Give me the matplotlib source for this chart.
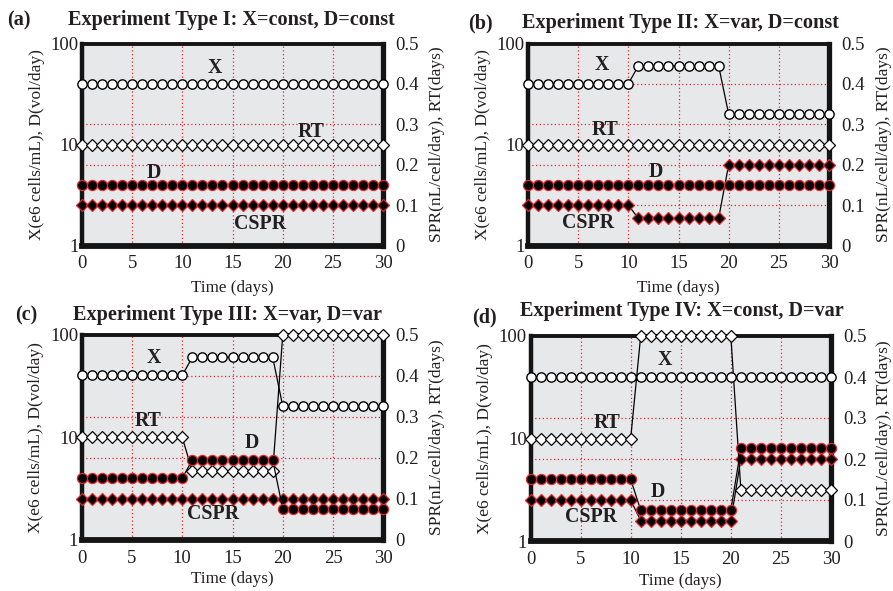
import numpy as np
import matplotlib
matplotlib.use("Agg")
import matplotlib.pyplot as plt
from matplotlib.ticker import NullLocator

# ---------------- data ----------------
DAYS = list(range(31))

# (a) Type I: X const, D const
a_X = [40] * 31
a_D = [4] * 31
a_RT = [0.25] * 31
a_CSPR = [0.1] * 31

# (b) Type II: X var, D const
b_X = [40] * 11 + [60] * 9 + [20] * 11
b_D = [4] * 31
b_RT = [0.25] * 31
b_CSPR = [0.1] * 11 + [0.067] * 9 + [0.2] * 11

# (c) Type III: X var, D var
c_X = [40] * 11 + [60] * 9 + [20] * 11
c_D = [4] * 11 + [6] * 9 + [2] * 11
c_RT = [0.25] * 11 + [0.167] * 9 + [0.5] * 11
c_CSPR = [0.1] * 31

# (d) Type IV: X const, D var
d_X = [40] * 31
d_D = [4] * 11 + [2] * 10 + [8] * 10
d_RT = [0.25] * 11 + [0.5] * 10 + [0.125] * 10
d_CSPR = [0.1] * 11 + [0.05] * 10 + [0.2] * 10

PANEL_TAGS = ["(a)", "(b)", "(c)", "(d)"]
TITLES = ["Experiment Type I: X=const, D=const",
          "Experiment Type II: X=var, D=const",
          "Experiment Type III: X=var, D=var",
          "Experiment Type IV: X=const, D=var"]
X_TICKS = [0, 5, 10, 15, 20, 25, 30]
LEFT_TICKS = [1, 10, 100]
LEFT_TICKLABELS = ["1", "10", "100"]
RIGHT_TICKS = [0, 0.1, 0.2, 0.3, 0.4, 0.5]
RIGHT_TICKLABELS = ["0", "0.1", "0.2", "0.3", "0.4", "0.5"]
XLABEL = "Time (days)"
YLABEL_L = "X(e6 cells/mL), D(vol/day)"
YLABEL_R = "SPR(nL/cell/day), RT(days)"

SERIES = [(a_X, a_D, a_RT, a_CSPR), (b_X, b_D, b_RT, b_CSPR),
          (c_X, c_D, c_RT, c_CSPR), (d_X, d_D, d_RT, d_CSPR)]

# ---------------- layout / style ----------------
W, H = 893, 591
SERIF = ["Liberation Serif", "DejaVu Serif"]
TXT = "#231f20"
RED = "#e3262b"
BG = "#e7e8ea"

# axes boxes in pixels: (x0, x1, ytop, ybottom)
BOXES = [(82, 383, 43.5, 245.5), (528, 829, 43.5, 245.5),
         (81.7, 383.3, 334.5, 540), (530.5, 831, 336, 541)]
# tag (x center, baseline y), title (x center, baseline y) in pixels
TAG_POS = [(18.5, 25), (480.5, 28.3), (26, 320), (484.5, 322.5)]
TITLE_POS = [(231.5, 25), (680, 28.3), (228, 320), (682, 315.7)]
XLAB_Y = [-0.232, -0.229, -0.211, -0.215]
YL_X = [-0.1495, -0.1495, -0.150, -0.151]
YR_X = [1.181, 1.183, 1.179, 1.176]
# in-panel series labels (x in days, y on right axis scale)
LABEL_POS = [
    {"X": (13.25, 0.439), "RT": (22.8, 0.282), "D": (7.2, 0.180), "CSPR": (17.7, 0.053)},
    {"X": (7.33, 0.447), "RT": (7.7, 0.286), "D": (12.7, 0.183), "CSPR": (6.0, 0.056)},
    {"X": (7.2, 0.4435), "RT": (6.6, 0.2895), "D": (16.9, 0.235), "CSPR": (13.1, 0.0625)},
    {"X": (13.45, 0.4415), "RT": (7.65, 0.2885), "D": (12.7, 0.120), "CSPR": (6.0, 0.059)},
]

fig = plt.figure(figsize=(W / 100, H / 100), dpi=100)
fig.patch.set_facecolor("white")

for i in range(4):
    X, D, RT, CSPR = SERIES[i]
    x0, x1, yt, yb = BOXES[i]
    ax = fig.add_axes([x0 / W, 1 - yb / H, (x1 - x0) / W, (yb - yt) / H])
    ax2 = ax.twinx()
    ax.set_zorder(2)
    ax2.set_zorder(1)
    ax.patch.set_visible(False)
    ax2.patch.set_visible(True)
    ax2.patch.set_facecolor(BG)

    ax.set_xlim(0, 30)
    ax.set_yscale("log")
    ax.set_ylim(1, 100)
    ax2.set_ylim(0, 0.5)

    ax.set_xticks(X_TICKS)
    ax.set_xticklabels([str(t) for t in X_TICKS])
    ax.set_yticks(LEFT_TICKS)
    ax.set_yticklabels(LEFT_TICKLABELS)
    ax.yaxis.set_minor_locator(NullLocator())
    ax2.set_yticks(RIGHT_TICKS)
    ax2.set_yticklabels(RIGHT_TICKLABELS)

    for s in ax.spines.values():
        s.set_visible(False)
    for name, lw in (("left", 3.2), ("right", 3.8), ("bottom", 4.2), ("top", 2.8)):
        ax2.spines[name].set_linewidth(lw)
        ax2.spines[name].set_color("#141414")

    ax.tick_params(axis="x", length=0, pad=7, labelsize=13.5, labelcolor=TXT)
    ax.tick_params(axis="y", length=0, pad=2.5, labelsize=13.5, labelcolor=TXT)
    ax2.tick_params(axis="y", length=0, pad=8.5, labelsize=13.5, labelcolor=TXT)
    for lab in ax.get_xticklabels() + ax.get_yticklabels() + ax2.get_yticklabels():
        lab.set_fontfamily(SERIF)

    # grid (on bottom layer)
    ax2.xaxis.set_visible(True)
    ax2.tick_params(axis="x", length=0, labelbottom=False, labeltop=False)
    ax2.set_axisbelow(True)
    ax2.grid(True, axis="both", color=RED, linestyle=(0, (1, 2)), linewidth=0.9)

    # right-axis series
    ax2.plot(DAYS, CSPR, color="black", lw=0.9, marker="D", ms=6.6,
             mfc="black", mec=RED, mew=0.9, zorder=3, clip_on=False)
    ax2.plot(DAYS, RT, color="black", lw=0.9, marker="D", ms=6.3,
             mfc="white", mec="black", mew=0.9, zorder=3.5, clip_on=False)
    # left-axis series
    ax.plot(DAYS, D, color="black", lw=0.9, marker="o", ms=7.3,
            mfc="black", mec=RED, mew=0.9, zorder=3, clip_on=False)
    ax.plot(DAYS, X, color="black", lw=0.9, marker="o", ms=6.7,
            mfc="white", mec="black", mew=1.0, zorder=3.5, clip_on=False)

    # series labels
    for name, (lx, ly) in LABEL_POS[i].items():
        ax.text(lx, ly, name, transform=ax2.transData, ha="center", va="center",
                fontsize=14.3, fontweight="bold", family=SERIF, color=TXT, zorder=5)

    # axis labels
    ax.text(0.5, XLAB_Y[i], XLABEL, transform=ax.transAxes, ha="center",
            va="baseline", fontsize=12.3, family=SERIF, color=TXT)
    ax.text(YL_X[i], 0.5, YLABEL_L, transform=ax.transAxes, ha="center",
            va="center", rotation=90, fontsize=12.5, family=SERIF, color=TXT)
    ax.text(YR_X[i], 0.5, YLABEL_R, transform=ax.transAxes, ha="center",
            va="center", rotation=90, fontsize=12.5, family=SERIF, color=TXT)

    # tag and title
    tx, ty = TAG_POS[i]
    fig.text(tx / W, 1 - ty / H, PANEL_TAGS[i], ha="center", va="baseline",
             fontsize=14.5, fontweight="bold", family=SERIF, color=TXT)
    ttx, tty = TITLE_POS[i]
    fig.text(ttx / W, 1 - tty / H, TITLES[i], ha="center", va="baseline",
             fontsize=14.6, fontweight="bold", family=SERIF, color=TXT)

fig.savefig("out.png", dpi=100, facecolor="white")
